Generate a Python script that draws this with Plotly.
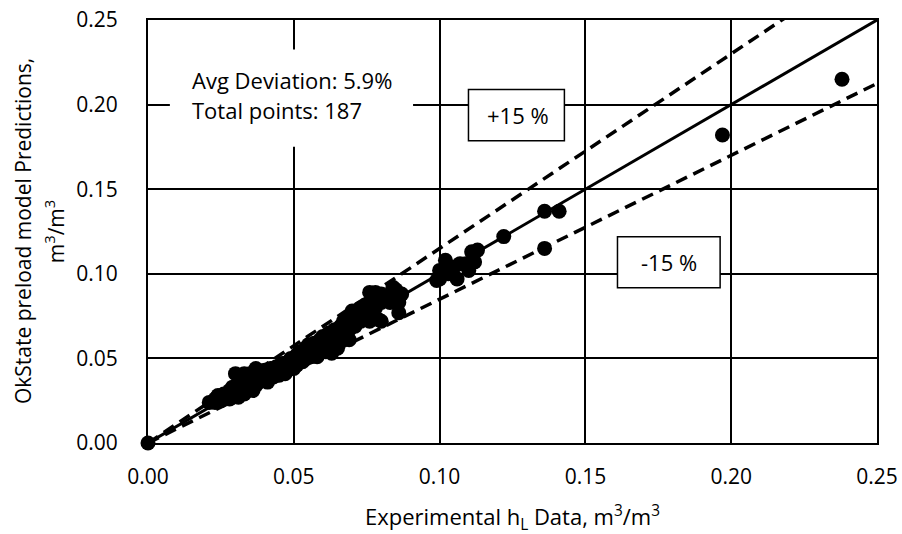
import plotly.graph_objects as go

# Experimental hL (x) vs OkState preload model predictions (y), m3/m3
exp_hl = [0.000,
    0.021, 0.023, 0.024, 0.025, 0.026, 0.027, 0.028, 0.028, 0.029, 0.030, 0.030, 0.031, 0.031,
    0.032, 0.032, 0.033, 0.033, 0.034, 0.035, 0.035, 0.036, 0.037, 0.037, 0.038, 0.038, 0.039,
    0.040, 0.040, 0.041, 0.042, 0.042, 0.043, 0.044, 0.044, 0.045, 0.045, 0.046, 0.046, 0.047,
    0.047, 0.048, 0.048, 0.049, 0.049, 0.050, 0.050, 0.051, 0.051, 0.052, 0.052, 0.053, 0.053,
    0.054, 0.054, 0.055, 0.055, 0.056, 0.056, 0.057, 0.057, 0.058, 0.058, 0.059, 0.059, 0.060,
    0.060, 0.061, 0.061, 0.062, 0.062, 0.063, 0.063, 0.064, 0.064, 0.065, 0.065, 0.066, 0.066,
    0.067, 0.067, 0.068, 0.068, 0.069, 0.069, 0.070, 0.070, 0.071, 0.072, 0.073, 0.073, 0.075,
    0.076, 0.076, 0.077, 0.078, 0.079, 0.080, 0.080, 0.082, 0.084, 0.084, 0.085, 0.086, 0.086,
    0.087, 0.099, 0.100, 0.100, 0.102, 0.103, 0.105, 0.106, 0.107, 0.109, 0.110, 0.111, 0.112,
    0.113, 0.122, 0.136, 0.141, 0.136, 0.197, 0.238,
    0.023, 0.033, 0.037, 0.044, 0.063, 0.069, 0.076, 0.078, 0.080, 0.085, 0.083]
pred_hl = [0.000,
    0.024, 0.026, 0.028, 0.025, 0.029, 0.027, 0.031, 0.026, 0.033, 0.029, 0.041, 0.035, 0.027,
    0.031, 0.040, 0.037, 0.029, 0.033, 0.041, 0.036, 0.031, 0.039, 0.034, 0.042, 0.036, 0.040,
    0.038, 0.043, 0.036, 0.041, 0.044, 0.039, 0.042, 0.045, 0.040, 0.044, 0.043, 0.047, 0.041,
    0.045, 0.048, 0.043, 0.046, 0.050, 0.044, 0.048, 0.052, 0.046, 0.050, 0.054, 0.048, 0.052,
    0.056, 0.050, 0.053, 0.058, 0.051, 0.055, 0.059, 0.053, 0.057, 0.051, 0.061, 0.055, 0.058,
    0.063, 0.054, 0.060, 0.065, 0.057, 0.062, 0.053, 0.067, 0.059, 0.064, 0.056, 0.069, 0.061,
    0.066, 0.072, 0.063, 0.070, 0.075, 0.067, 0.072, 0.078, 0.069, 0.076, 0.080, 0.072, 0.082,
    0.078, 0.072, 0.085, 0.080, 0.073, 0.083, 0.088, 0.086, 0.092, 0.085, 0.089, 0.077, 0.083,
    0.088, 0.096, 0.102, 0.097, 0.108, 0.100, 0.104, 0.097, 0.106, 0.106, 0.102, 0.113, 0.107,
    0.114, 0.122, 0.137, 0.137, 0.115, 0.182, 0.215,
    0.024, 0.041, 0.044, 0.041, 0.055, 0.061, 0.089, 0.089, 0.072, 0.0905, 0.083]

parity_x = [0.0, 0.25]
parity_y = [0.0, 0.25]
upper_x = [0.0, 0.25]
upper_y = [0.0, 0.25 * 1.15]
lower_x = [0.0, 0.25]
lower_y = [0.0, 0.25 * 0.85]

tick_vals = [0.0, 0.05, 0.10, 0.15, 0.20, 0.25]
tick_text = ["0.00", "0.05", "0.10", "0.15", "0.20", "0.25"]

FONT = "Open Sans"
fig = go.Figure()
fig.add_trace(go.Scatter(x=parity_x, y=parity_y, mode="lines",
                         line=dict(color="black", width=3), showlegend=False, hoverinfo="skip"))
fig.add_trace(go.Scatter(x=upper_x, y=upper_y, mode="lines",
                         line=dict(color="black", width=3.5, dash="12px,7px"), showlegend=False, hoverinfo="skip"))
fig.add_trace(go.Scatter(x=lower_x, y=lower_y, mode="lines",
                         line=dict(color="black", width=3.5, dash="12px,7px"), showlegend=False, hoverinfo="skip"))
fig.add_trace(go.Scatter(x=exp_hl, y=pred_hl, mode="markers", cliponaxis=False,
                         marker=dict(color="black", size=15, line=dict(width=0)), showlegend=False))

axis_common = dict(range=[0, 0.25], tickvals=tick_vals, ticktext=tick_text, automargin=False,
                   showgrid=True, gridcolor="black", gridwidth=1.5,
                   showline=True, linecolor="black", linewidth=2, mirror=True,
                   zeroline=False, ticks="", tickfont=dict(family=FONT, size=21, color="black"))
fig.update_xaxes(**axis_common, ticklabelstandoff=14)
fig.update_yaxes(**axis_common, ticklabelstandoff=24)

shapes = [
    dict(type="rect", xref="x", yref="y", x0=0.0075, x1=0.0909, y0=0.1751, y1=0.2325,
         fillcolor="white", line=dict(width=0), layer="above"),
    dict(type="rect", xref="x", yref="y", x0=0.1099, x1=0.1428, y0=0.1787, y1=0.2089,
         fillcolor="white", line=dict(color="black", width=1.5), layer="above"),
    dict(type="rect", xref="x", yref="y", x0=0.1610, x1=0.1962, y0=0.0917, y1=0.1219,
         fillcolor="white", line=dict(color="black", width=1.5), layer="above"),
]
tf = dict(family=FONT, size=22, color="black")
annotations = [
    dict(x=0.0144, y=0.2148, xref="x", yref="y", text="Avg Deviation: 5.9%", showarrow=False,
         xanchor="left", yanchor="middle", font=tf),
    dict(x=0.0144, y=0.1970, xref="x", yref="y", text="Total points: 187", showarrow=False,
         xanchor="left", yanchor="middle", font=tf),
    dict(x=0.1268, y=0.1938, xref="x", yref="y", text="+15 %", showarrow=False,
         xanchor="center", yanchor="middle", font=tf),
    dict(x=0.1786, y=0.1068, xref="x", yref="y", text="-15 %", showarrow=False,
         xanchor="center", yanchor="middle", font=tf),
    dict(x=0.5, y=-0.175, xref="paper", yref="paper",
         text="Experimental h<sub>L</sub> Data, m<sup>3</sup>/m<sup>3</sup>", showarrow=False,
         xanchor="center", yanchor="middle", font=dict(family=FONT, size=22, color="black")),
    dict(x=-0.172, y=0.5, xref="paper", yref="paper", textangle=-90,
         text="OkState preload model Predictions,", showarrow=False,
         xanchor="center", yanchor="middle", font=dict(family=FONT, size=21, color="black")),
    dict(x=-0.128, y=0.5, xref="paper", yref="paper", textangle=-90,
         text="m<sup>3</sup>/m<sup>3</sup>", showarrow=False,
         xanchor="center", yanchor="middle", font=dict(family=FONT, size=21, color="black")),
]

fig.update_layout(width=902, height=534, margin=dict(l=148, r=25, t=20, b=91),
                  paper_bgcolor="white", plot_bgcolor="white",
                  shapes=shapes, annotations=annotations,
                  font=dict(family=FONT, color="black"))
fig.write_html("out.html")
